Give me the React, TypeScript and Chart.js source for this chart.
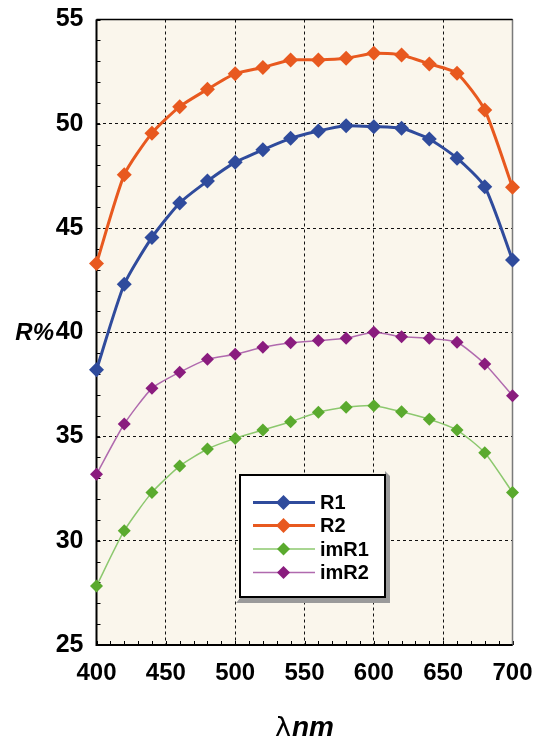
import React, { useEffect, useRef } from "react";
import { Chart, registerables } from "chart.js";
Chart.register(...registerables);

const wavelengths = [400, 420, 440, 460, 480, 500, 520, 540, 560, 580, 600, 620, 640, 660, 680, 700];
const R1 = [38.2, 42.3, 44.55, 46.2, 47.25, 48.15, 48.75, 49.3, 49.65, 49.9, 49.86, 49.78, 49.27, 48.35, 46.98, 43.47];
const R2 = [43.3, 47.55, 49.55, 50.82, 51.65, 52.4, 52.7, 53.06, 53.06, 53.14, 53.38, 53.3, 52.87, 52.42, 50.66, 46.95];
const imR1 = [27.83, 30.48, 32.32, 33.58, 34.4, 34.91, 35.31, 35.71, 36.16, 36.4, 36.48, 36.19, 35.83, 35.31, 34.22, 32.32];
const imR2 = [33.19, 35.6, 37.31, 38.08, 38.7, 38.94, 39.28, 39.5, 39.6, 39.71, 40.0, 39.79, 39.71, 39.52, 38.48, 36.96];

const seriesNames = ["R1", "R2", "imR1", "imR2"];
const markerColors = ["#2f4b9c", "#e8591f", "#5aaa2e", "#8a1c7e"];
const lineColors = ["#2f4b9c", "#e8591f", "#8cc86e", "#b06aae"];
const seriesWidths = [3, 3, 1.5, 1.5];
const seriesRadius = [7.5, 7.5, 6.5, 6.5];
const yTitle = "R%";
const xTitleSymbol = "λ";
const xTitleUnit = "nm";

const xMin = 400, xMax = 700, xStep = 50, xMinor = 10;
const yMin = 25, yMax = 55, yStep = 5, yMinor = 1;

export default function App() {
  const ref = useRef<HTMLCanvasElement | null>(null);
  useEffect(() => {
    const canvas = ref.current;
    if (!canvas) return;
    const allSeries = [R1, R2, imR1, imR2];
    const datasets = allSeries.map((s, i) => ({
      label: seriesNames[i],
      data: wavelengths.map((x, j) => ({ x, y: s[j] })),
      borderColor: lineColors[i],
      backgroundColor: markerColors[i],
      borderWidth: seriesWidths[i],
      pointStyle: "rectRot" as const,
      pointRadius: seriesRadius[i],
      pointBorderWidth: 0,
      pointBackgroundColor: markerColors[i],
      pointBorderColor: markerColors[i],
      tension: 0.2,
      clip: false as any,
    }));

    const bgPlugin = {
      id: "bg",
      beforeDraw(chart: any) {
        const { ctx, chartArea: a } = chart;
        ctx.save();
        ctx.fillStyle = "#faf6ec";
        ctx.fillRect(a.left, a.top, a.right - a.left, a.bottom - a.top);
        ctx.restore();
      },
    };

    const framePlugin = {
      id: "frame",
      beforeDatasetsDraw(chart: any) {
        const { ctx, chartArea: a, scales } = chart;
        const xs = scales.x, ys = scales.y;
        ctx.save();
        ctx.strokeStyle = "#000";
        ctx.lineWidth = 1;
        for (let v = yMin; v <= yMax; v += yMinor) {
          const y = Math.round(ys.getPixelForValue(v)) + 0.5;
          ctx.beginPath();
          ctx.moveTo(a.left, y);
          ctx.lineTo(a.left + 4, y);
          ctx.stroke();
        }
        for (let v = xMin; v <= xMax; v += xMinor) {
          const x = Math.round(xs.getPixelForValue(v)) + 0.5;
          ctx.beginPath();
          ctx.moveTo(x, a.bottom);
          ctx.lineTo(x, a.bottom - 4);
          ctx.stroke();
        }
        ctx.strokeStyle = "#7a7a7a";
        ctx.lineWidth = 1.5;
        ctx.beginPath();
        ctx.moveTo(a.right, a.top);
        ctx.lineTo(a.right, a.bottom);
        ctx.stroke();
        ctx.strokeStyle = "#000";
        ctx.lineWidth = 1.5;
        ctx.beginPath();
        ctx.moveTo(a.left, a.top);
        ctx.lineTo(a.right, a.top);
        ctx.stroke();
        ctx.lineWidth = 2;
        ctx.beginPath();
        ctx.moveTo(a.left, a.top);
        ctx.lineTo(a.left, a.bottom);
        ctx.lineTo(a.right, a.bottom);
        ctx.stroke();
        ctx.restore();
      },
    };

    const annotPlugin = {
      id: "annot",
      afterDraw(chart: any) {
        const { ctx, chartArea: a, scales } = chart;
        const ys = scales.y;
        ctx.save();
        ctx.fillStyle = "#000";
        ctx.font = "italic bold 24px 'Liberation Sans', Arial, sans-serif";
        ctx.textAlign = "right";
        ctx.textBaseline = "middle";
        ctx.fillText(yTitle, 54, ys.getPixelForValue(40) + 1);
        const cx = (a.left + a.right) / 2;
        ctx.font = "27px 'DejaVu Sans', sans-serif";
        const w1 = ctx.measureText(xTitleSymbol).width;
        ctx.font = "italic bold 28px 'Liberation Sans', Arial, sans-serif";
        const w2 = ctx.measureText(xTitleUnit).width;
        const startX = cx - (w1 + w2 + 1) / 2;
        ctx.textAlign = "left";
        ctx.textBaseline = "alphabetic";
        ctx.font = "27px 'DejaVu Sans', sans-serif";
        ctx.fillText(xTitleSymbol, startX, 736);
        ctx.font = "italic bold 28px 'Liberation Sans', Arial, sans-serif";
        ctx.fillText(xTitleUnit, startX + w1 + 1, 736);

        const L = 240, T = 475, R = 385, B = 597;
        ctx.fillStyle = "#9a9a9a";
        ctx.beginPath();
        ctx.moveTo(R, T - 4);
        ctx.lineTo(R + 5, T + 1);
        ctx.lineTo(R + 5, B + 6);
        ctx.lineTo(L - 4, B + 6);
        ctx.lineTo(L + 1, B);
        ctx.lineTo(R, B);
        ctx.closePath();
        ctx.fill();
        ctx.fillStyle = "#fff";
        ctx.fillRect(L, T, R - L, B - T);
        ctx.strokeStyle = "#000";
        ctx.lineWidth = 2;
        ctx.strokeRect(L, T, R - L, B - T);
        const rowY = [502.5, 525.5, 549, 572.5];
        chart.data.datasets.forEach((ds: any, i: number) => {
          const y = rowY[i];
          ctx.strokeStyle = ds.borderColor;
          ctx.lineWidth = ds.borderWidth;
          ctx.beginPath();
          ctx.moveTo(253, y);
          ctx.lineTo(315, y);
          ctx.stroke();
          const r = ds.pointRadius;
          ctx.fillStyle = ds.pointBackgroundColor;
          ctx.beginPath();
          ctx.moveTo(283.5, y - r);
          ctx.lineTo(283.5 + r, y);
          ctx.lineTo(283.5, y + r);
          ctx.lineTo(283.5 - r, y);
          ctx.closePath();
          ctx.fill();
          ctx.fillStyle = "#000";
          ctx.font = "bold 20px 'Liberation Sans', Arial, sans-serif";
          ctx.textAlign = "left";
          ctx.textBaseline = "middle";
          ctx.fillText(ds.label, 320, y + 1);
        });
        ctx.restore();
      },
    };

    const chart = new Chart(canvas, {
      type: "line",
      data: { datasets },
      options: {
        animation: false,
        responsive: false,
        maintainAspectRatio: false,
        layout: { padding: { left: 0, right: 26.5, top: 19.5, bottom: 0 } },
        plugins: { legend: { display: false }, tooltip: { enabled: false } },
        scales: {
          x: {
            type: "linear",
            min: xMin,
            max: xMax,
            afterFit(scale: any) {
              scale.height = 96;
              scale.paddingLeft = 0;
              scale.paddingRight = 0;
            },
            ticks: {
              stepSize: xStep,
              padding: 14,
              color: "#000",
              maxRotation: 0,
              font: { family: "'Liberation Sans', Arial, sans-serif", size: 24, weight: "bold" },
            },
            grid: { color: "#111", lineWidth: 1, drawTicks: false },
            border: { display: false, dash: [3, 3] },
          },
          y: {
            type: "linear",
            min: yMin,
            max: yMax,
            afterFit(scale: any) {
              scale.width = 96.5;
              scale.paddingTop = 0;
              scale.paddingBottom = 0;
            },
            ticks: {
              stepSize: yStep,
              padding: 13,
              color: "#000",
              font: { family: "'Liberation Sans', Arial, sans-serif", size: 25, weight: "bold" },
            },
            grid: { color: "#111", lineWidth: 1, drawTicks: false },
            border: { display: false, dash: [3, 3] },
          },
        },
      },
      plugins: [bgPlugin, framePlugin, annotPlugin],
    });
    return () => chart.destroy();
  }, []);
  return (
    <div style={{ position: "fixed", left: 0, top: 0, width: 539, height: 741, background: "#fff" }}>
      <canvas ref={ref} width={539} height={741} style={{ display: "block" }} />
    </div>
  );
}
